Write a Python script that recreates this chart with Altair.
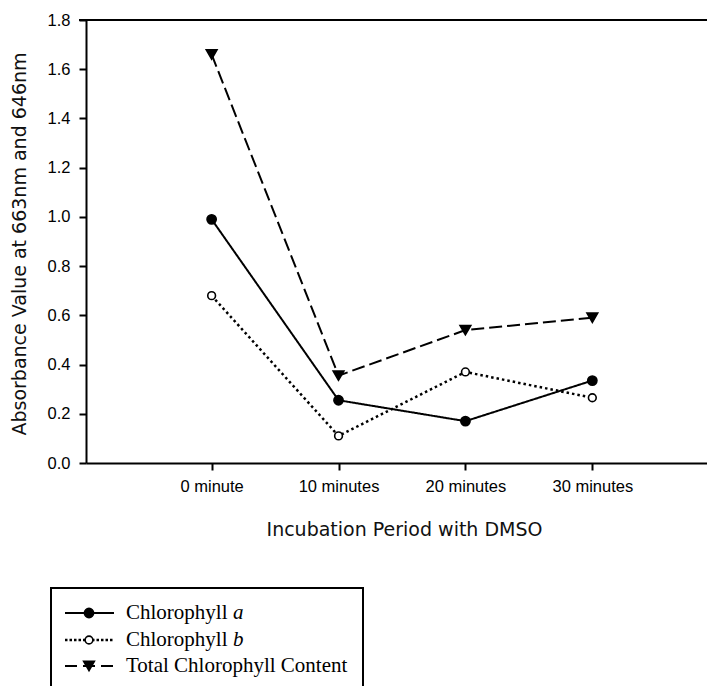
import altair as alt
import pandas as pd

categories = ["0 minute", "10 minutes", "20 minutes", "30 minutes"]
chl_a = [0.99, 0.255, 0.17, 0.335]
chl_b = [0.68, 0.11, 0.37, 0.265]
chl_total = [1.66, 0.355, 0.54, 0.59]
series_names = ["Chlorophyll a", "Chlorophyll b", "Total Chlorophyll Content"]
legend_main = ["Chlorophyll ", "Chlorophyll ", "Total Chlorophyll Content"]
legend_italic = ["a", "b", ""]
y_ticks = [0.0, 0.2, 0.4, 0.6, 0.8, 1.0, 1.2, 1.4, 1.6, 1.8]

STEP = 126.9
W, H = 621, 443
OX, OY = 86, 20
TOTAL_W, TOTAL_H = 707, 686
x_lo = -0.99
x_hi = x_lo + W / STEP

rows = []
for s, vals in zip(series_names, [chl_a, chl_b, chl_total]):
    for i, (c, v) in enumerate(zip(categories, vals)):
        rows.append({"series": s, "idx": i, "period": c, "value": v})
df = pd.DataFrame(rows)

label_expr = "[" + ",".join("'%s'" % c for c in categories) + "][datum.value]"

x_enc = alt.X(
    "idx:Q",
    scale=alt.Scale(domain=[x_lo, x_hi], nice=False, zero=False),
    axis=alt.Axis(
        values=[0, 1, 2, 3], labelExpr=label_expr, grid=False,
        title="Incubation Period with DMSO",
        tickSize=7, tickWidth=2, domainWidth=2, labelPadding=8,
        titleX=318, titleY=72, titleBaseline="alphabetic", titleAlign="center",
    ),
)
y_enc = alt.Y(
    "value:Q",
    scale=alt.Scale(domain=[0, 1.8], nice=False),
    axis=alt.Axis(
        values=y_ticks, format=".1f", grid=False,
        title="Absorbance Value at 663nm and 646nm",
        tickSize=7, tickWidth=2, domainWidth=2, labelPadding=9,
        titleX=-61, titleY=H / 2 + 2, titleBaseline="alphabetic", titleAlign="center",
    ),
)

styles = {
    "Chlorophyll a": dict(dash=[1, 0], shape="circle", fill="black", size=85, ldash=[1, 0]),
    "Chlorophyll b": dict(dash=[2.5, 3], shape="circle", fill="white", size=60, ldash=[2.5, 2]),
    "Total Chlorophyll Content": dict(dash=[13, 5], shape="triangle-down", fill="black", size=115, ldash=[12, 6]),
}
line_w = {"Chlorophyll a": 2, "Chlorophyll b": 2.5, "Total Chlorophyll Content": 2}

layers = []
for s in series_names:
    st = styles[s]
    base = alt.Chart(df).transform_filter(alt.datum.series == s)
    layers.append(
        base.mark_line(color="black", strokeWidth=line_w[s], strokeDash=st["dash"]).encode(x=x_enc, y=y_enc)
    )
    layers.append(
        base.mark_point(shape=st["shape"], fill=st["fill"], stroke="black", strokeWidth=1.6,
                        size=st["size"], opacity=1, fillOpacity=1, filled=True).encode(x=x_enc, y=y_enc)
    )

one = pd.DataFrame({"k": [0]})

# top frame line
layers.append(
    alt.Chart(one).mark_rule(color="black", strokeWidth=2).encode(
        x=alt.value(-7), x2=alt.value(W + 5), y=alt.value(0), y2=alt.value(0)
    )
)

# legend box
box_left, box_right, box_top = 51 - OX, 363 - OX, 588 - OY
layers.append(
    alt.Chart(one).mark_rect(fillOpacity=0, stroke="black", strokeWidth=2).encode(
        x=alt.value(box_left), x2=alt.value(box_right), y=alt.value(box_top), y2=alt.value(box_top + 200)
    )
)

row_y = [613 - OY, 640 - OY, 666 - OY]
sym_l, sym_r, sym_c = 65 - OX, 114 - OX, 89 - OX
text_x = 126 - OX
for s, ry, main, ital in zip(series_names, row_y, legend_main, legend_italic):
    st = styles[s]
    layers.append(
        alt.Chart(one).mark_rule(color="black", strokeWidth=line_w[s], strokeDash=st["ldash"]).encode(
            x=alt.value(sym_l), x2=alt.value(sym_r), y=alt.value(ry), y2=alt.value(ry)
        )
    )
    layers.append(
        alt.Chart(one).mark_point(shape=st["shape"], fill=st["fill"], stroke="black", strokeWidth=1.6,
                                  size=st["size"], opacity=1, fillOpacity=1, filled=True).encode(
            x=alt.value(sym_c), y=alt.value(ry)
        )
    )
    layers.append(
        alt.Chart(one).mark_text(align="left", baseline="middle", font="Liberation Serif",
                                 fontSize=21, color="black").encode(
            x=alt.value(text_x), y=alt.value(ry), text=alt.value(main)
        )
    )
    if ital:
        layers.append(
            alt.Chart(one).mark_text(align="left", baseline="middle", font="Liberation Serif",
                                     fontSize=21, fontStyle="italic", color="black").encode(
                x=alt.value(text_x + 107), y=alt.value(ry), text=alt.value(ital)
            )
        )

chart = (
    alt.layer(*layers)
    .properties(
        width=W, height=H,
        autosize=alt.AutoSizeParams(type="none"),
        padding={"left": OX, "top": OY, "right": TOTAL_W - OX - W, "bottom": TOTAL_H - OY - H},
    )
    .configure_view(stroke="transparent", strokeWidth=0)
    .configure_axis(
        domainColor="black", tickColor="black",
        labelFont="Liberation Sans", labelFontSize=16.5, labelColor="black",
        titleFont="DejaVu Sans", titleFontSize=19, titleFontWeight="normal", titleColor="#111",
    )
)

chart.save("out.html", embed_options={"renderer": "svg", "actions": False})
